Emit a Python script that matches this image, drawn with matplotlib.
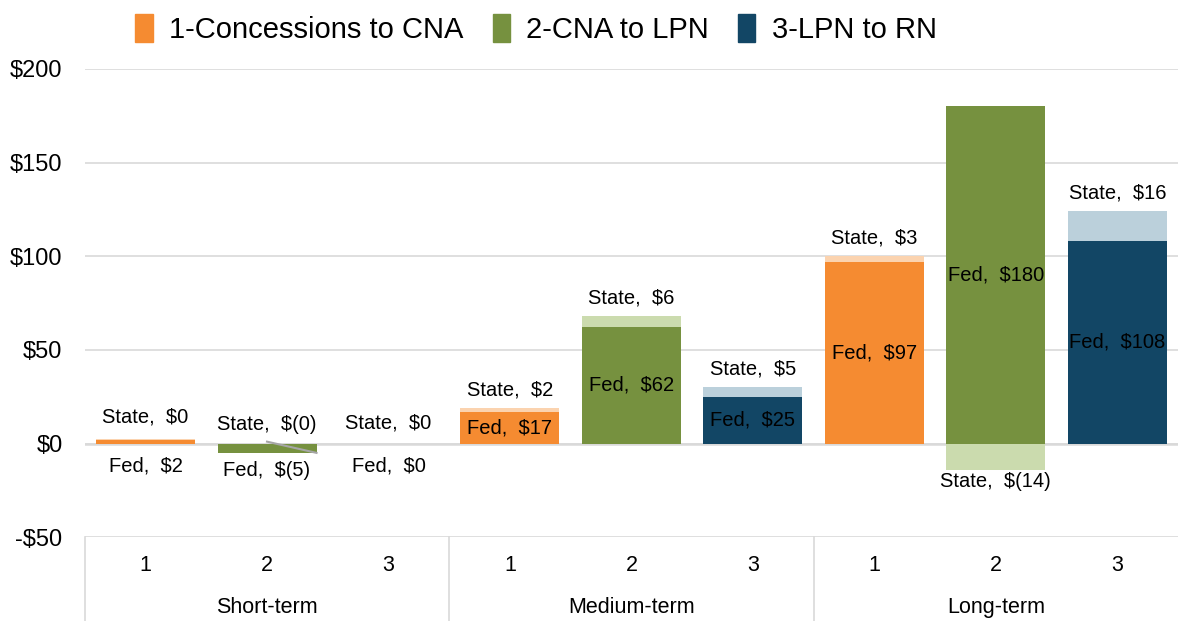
import matplotlib.pyplot as plt
import numpy as np

plt.rcParams['font.family'] = ['Liberation Sans', 'DejaVu Sans']

# data
groups = ['Short-term', 'Medium-term', 'Long-term']
scenarios = ['1', '2', '3']
series_names = ['1-Concessions to CNA', '2-CNA to LPN', '3-LPN to RN']
fed = [2, -5, 0, 17, 62, 25, 97, 180, 108]
state = [0.3, -0.3, 0, 2, 6, 5, 3, -14, 16]

dark = ['#F58B31', '#76913F', '#124665']
light = ['#FBD3AF', '#CBDBAE', '#BBD0DB']


def money(v):
    r = int(round(abs(v)))
    if v < 0:
        return '$(%d)' % r
    return '$%d' % r


fig = plt.figure(figsize=(11.78, 6.21), dpi=100)
ax = fig.add_axes([0.072, 0.135, 0.928, 0.754])

x = np.arange(len(fed))
w = 0.815
fs = 14.5
for i in x:
    c = i % 3
    f, s = fed[i], state[i]
    ax.bar(i, f, w, color=dark[c], zorder=2)
    base = f if (f >= 0) == (s >= 0) else 0
    ax.bar(i, s, w, bottom=base, color=light[c], zorder=2)

    # Fed label
    if abs(f) > 10:
        ax.text(i, f / 2, 'Fed,  ' + money(f), ha='center', va='center', fontsize=fs, zorder=3)
    else:
        ax.text(i, -12 - (2.5 if f < 0 else 0), 'Fed,  ' + money(f), ha='center', va='center', fontsize=fs, zorder=3)

    # State label
    if abs(f) < 10:
        if f < 0:
            ax.plot([i, i + w / 2], [1, f], color='#A6A6A6', lw=1.5, zorder=3)
            ax.text(i, 10, 'State,  ' + money(s), ha='center', va='center', fontsize=fs,
                    bbox=dict(facecolor='white', edgecolor='none', pad=0.5), zorder=4)
        else:
            ax.text(i, 11 + (3 if i == 0 else 0), 'State,  ' + money(s), ha='center', va='center', fontsize=fs)
    elif s < 0:
        ax.annotate('State,  ' + money(s), xy=(i, s), xytext=(0, -1.5), textcoords='offset points',
                    ha='center', va='top', fontsize=fs)
    else:
        ax.annotate('State,  ' + money(s), xy=(i, base + s), xytext=(0, 6), textcoords='offset points',
                    ha='center', va='bottom', fontsize=fs)

ax.set_ylim(-50, 200)
ax.set_xlim(-0.5, 8.5)
ax.set_yticks(np.arange(-50, 201, 50))
ax.set_yticklabels(['-$50' if v < 0 else '$%d' % v for v in np.arange(-50, 201, 50)], fontsize=17)
ax.yaxis.grid(True, color='#D9D9D9', lw=1.2, zorder=0)
ax.axhline(0, color='#D9D9D9', lw=1.8, zorder=1)
ax.tick_params(axis='y', length=0, pad=16)
ax.set_xticks([])
for sp in ax.spines.values():
    sp.set_visible(False)

# category axis boxes
trans = ax.get_xaxis_transform()
for i in x:
    ax.text(i, -0.06, scenarios[i % 3], transform=trans, ha='center', va='center', fontsize=15.5)
for g, name in enumerate(groups):
    ax.text(3 * g + 1, -0.15, name, transform=trans, ha='center', va='center', fontsize=15.5)
for xb in [-0.5, 2.5, 5.5]:
    ax.plot([xb, xb], [0, -0.2], transform=trans, color='#D9D9D9', lw=1.2, clip_on=False)

handles = [plt.Rectangle((0, 0), 1, 1, color=c) for c in dark]
fig.legend(handles, series_names, loc='center', bbox_to_anchor=(0.455, 0.953), ncol=3, frameon=False,
           fontsize=21, handlelength=0.6, handleheight=1.1, handletextpad=0.55, columnspacing=1.0)

fig.savefig('out.png', dpi=100)
